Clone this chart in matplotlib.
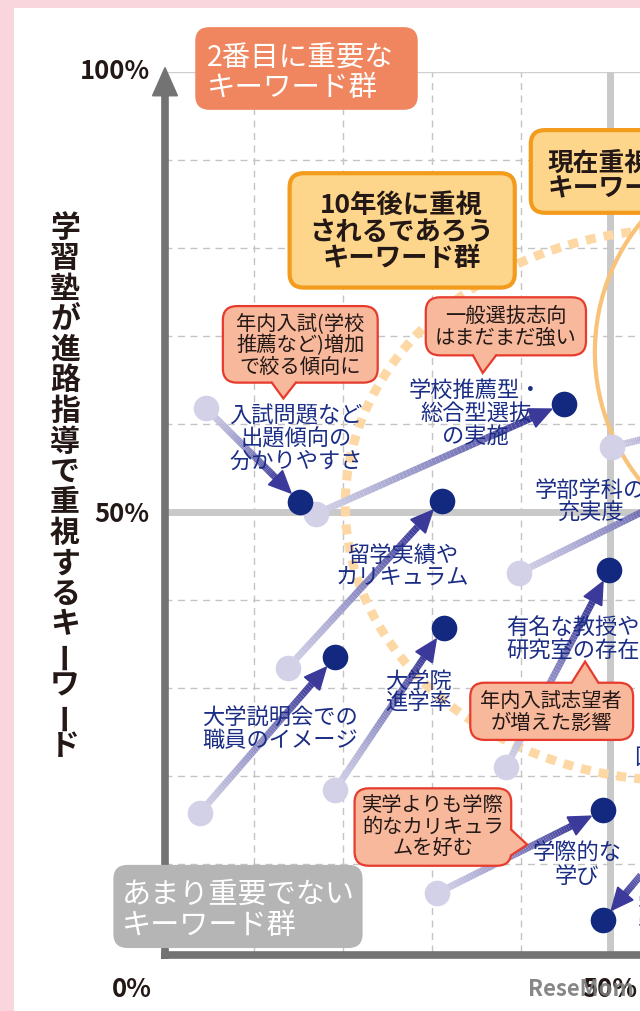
import numpy as np
import matplotlib
matplotlib.use("Agg")
import matplotlib.pyplot as plt
from matplotlib.patches import FancyBboxPatch, Ellipse, Polygon
from matplotlib.collections import LineCollection
from matplotlib.colors import to_rgb

plt.rcParams['font.family'] = ['Noto Sans CJK JP', 'DejaVu Sans']

# --- data (percent) : light point -> dark point ---
names = ['入試問題など出題傾向の分かりやすさ', '学校推薦型・総合型選抜の実施',
         '留学実績やカリキュラム', '大学説明会での職員のイメージ', '大学院進学率',
         '有名な教授や研究室の存在', '学部学科の充実度', '(右側)', '学際的な学び', '(右下)']
from_x = [4.6, 17.0, 13.8, 3.9, 19.1, 38.3, 39.8, 50.2, 30.6, 60.1]
from_y = [61.8, 49.8, 32.3, 15.8, 18.4, 21.0, 43.1, 57.4, 6.7, 16.7]
to_x = [15.2, 44.8, 31.1, 19.1, 31.3, 49.9, 62.4, 66.9, 49.2, 49.2]
to_y = [51.1, 62.3, 51.3, 33.5, 36.8, 43.4, 54.4, 61.6, 16.1, 3.6]

# labels drawn next to the points (text, x, y)
point_labels = [
    ('入試問題など\n出題傾向の\n分かりやすさ', 14.7, 58.3),
    ('学校推薦型・\n総合型選抜\nの実施', 34.9, 61.2),
    ('留学実績や\nカリキュラム', 26.7, 43.8),
    ('大学説明会での\n職員のイメージ', 12.9, 25.3),
    ('大学院\n進学率', 28.5, 29.5),
    ('有名な教授や\n研究室の存在', 45.8, 35.6),
    ('学部学科の\n充実度', 47.8, 51.2),
    ('学際的な\n学び', 46.3, 9.9),
]

NAVY = '#1b2d85'
LIGHT = '#d2d1e7'
DARK = '#13287f'
INK = '#231815'

fig = plt.figure(figsize=(6.4, 10.11), dpi=100)
fig.patch.set_facecolor('#f9d6de')
bg = fig.add_axes([14 / 640, 0, 1 - 14 / 640, 1 - 8 / 1011], zorder=-5)
bg.set_facecolor('white')
bg.set_xticks([])
bg.set_yticks([])
for s in bg.spines.values():
    s.set_visible(False)

ax = fig.add_axes([165 / 640, 59 / 1011, 475 / 640, 880 / 1011])
ax.set_xlim(0, 475 / 8.9)
ax.set_ylim(0, 100)
ax.set_axis_off()
ax.patch.set_alpha(0)

# grid
for v in [10, 20, 30, 40]:
    ax.plot([v, v], [0, 100], color='#c4c4c4', lw=1, dashes=(5, 4), zorder=1)
for v in [10, 20, 30, 40, 60, 70, 80, 90]:
    ax.plot([0, 60], [v, v], color='#c4c4c4', lw=1, dashes=(5, 4), zorder=1)
ax.plot([0, 60], [100, 100], color='#d0d0d0', lw=1, zorder=1)
ax.plot([50, 50], [0, 100], color='#c9c9c9', lw=5, zorder=1, solid_capstyle='butt')
ax.plot([0, 60], [50, 50], color='#c9c9c9', lw=5, zorder=1, solid_capstyle='butt')

# ellipses
ax.add_patch(Ellipse((57.9, 50.8), 75.3, 62.7, fill=False, ec='#fdd8a4', lw=6.5,
                     linestyle=(0, (1.1, 0.9)), zorder=2))
ax.add_patch(Ellipse((71.3, 68.2), 46.0, 46.6, fill=False, ec='#f8c279', lw=3, zorder=2))

# axes lines
ax.plot([0, 0], [-0.8, 97.5], color='#737373', lw=5.5, clip_on=False, zorder=3,
        solid_capstyle='butt')
ax.plot([-0.45, 60], [-0.35, -0.35], color='#737373', lw=5.5, clip_on=False, zorder=3,
        solid_capstyle='butt')
ax.add_patch(Polygon([[0, 100.5], [-1.4, 97.3], [1.4, 97.3]], closed=True,
                     color='#737373', clip_on=False, zorder=3))

# arrows
T = ax.transData
inv = T.inverted()
c0 = np.array(to_rgb('#d0cfe6'))
c1 = np.array(to_rgb('#3b3999'))
for x0, y0, x1, y1 in zip(from_x, from_y, to_x, to_y):
    a = T.transform((x0, y0))
    b = T.transform((x1, y1))
    d = b - a
    u = d / np.hypot(*d)
    n = np.array([-u[1], u[0]])
    tip = b - u * 13
    base = tip - u * 22
    t = np.linspace(0, 1, 61)
    pts = a + np.outer(t, base + u * 2 - a)
    segs = np.stack([pts[:-1], pts[1:]], axis=1)
    segs = inv.transform(segs.reshape(-1, 2)).reshape(-1, 2, 2)
    tm = (t[:-1] + t[1:]) / 2
    cols = c0 + np.outer(tm ** 1.3, c1 - c0)
    ax.add_collection(LineCollection(segs, colors=cols, linewidths=5, capstyle='butt', zorder=4))
    head = inv.transform(np.array([tip, base + n * 10, base - n * 10]))
    ax.add_patch(Polygon(head, closed=True, color=c1, zorder=4))

ax.scatter(from_x, from_y, s=340, color=LIGHT, zorder=5, linewidths=0)
ax.scatter(to_x, to_y, s=340, color=DARK, zorder=6, linewidths=0)

for txt, x, y in point_labels:
    ax.text(x, y, txt, color=NAVY, fontsize=16, ha='center', va='center',
            linespacing=0.98, zorder=7)
# labels cut at the right edge
ax.text(52.7, 22.1, '国際化への取り組み', color=NAVY, fontsize=16, ha='left', va='center',
        zorder=7)
ax.text(53.1, 4.1, '学費の\n安さ', color=NAVY, fontsize=16, ha='left', va='center',
        linespacing=0.98, zorder=7)


def box(x0, x1, y0, y1, fc, ec, lw, text, tx, ty, ha='center', **kw):
    ax.add_patch(FancyBboxPatch((x0, y1), x1 - x0, y0 - y1,
                                boxstyle='round,pad=0,rounding_size=1.6',
                                fc=fc, ec=ec, lw=lw, clip_on=False, zorder=8))
    ax.text(tx, ty, text, ha=ha, va='center', zorder=10, clip_on=False, **kw)


def callout(x0, x1, y0, y1, tail, text, tx, ty):
    box(x0, x1, y0, y1, '#f7b89c', '#e63b2d', 1.6, text, tx, ty,
        fontsize=14.6, color=INK, linespacing=1.05)
    (bx1, by1), tip, (bx2, by2), (dx, dy) = tail
    ax.add_patch(Polygon([[bx1 + dx, by1 + dy], [bx1, by1], tip, [bx2, by2], [bx2 + dx, by2 + dy]],
                         closed=True, fc='#f7b89c', ec='none', zorder=9))
    ax.plot([bx1, tip[0], bx2], [by1, tip[1], by2], color='#e63b2d', lw=1.6, zorder=9,
            solid_joinstyle='miter')


box(3.4, 28.4, 105.1, 95.7, '#f0865f', 'none', 0, '2番目に重要な\nキーワード群', 4.7, 99.9,
    ha='left', fontsize=20.5, color='white', linespacing=1.0)
box(14.0, 39.3, 88.5, 75.5, '#fdd68b', '#f29b1c', 3, '10年後に重視\nされるであろう\nキーワード群',
    26.6, 81.8, fontsize=19, fontweight='bold', color=INK, linespacing=0.98)
box(41.1, 62.0, 93.4, 84.0, '#fdd68b', '#f29b1c', 3, '現在重視されている\nキーワード群',
    43.0, 88.2, ha='left', fontsize=18.5, fontweight='bold', color=INK, linespacing=0.95)
box(-5.8, 22.2, 9.9, 0.45, '#b4b5b4', 'none', 0, 'あまり重要でない\nキーワード群',
    -4.8, 4.7, ha='left', fontsize=21, color='white', linespacing=1.05)

callout(6.5, 23.9, 73.4, 64.7, ((12.0, 64.7), (13.3, 62.9), (14.7, 64.7), (0, 0.6)),
        '年内入試(学校\n推薦など)増加\nで絞る傾向に', 15.2, 68.9)
callout(29.3, 47.3, 74.4, 67.8, ((34.6, 67.8), (35.7, 65.8), (37.2, 67.8), (0, 0.6)),
        '一般選抜志向\nはまだまだ強い', 38.3, 71.0)
callout(34.3, 52.6, 30.6, 24.1, ((45.7, 30.6), (47.2, 33.0), (48.7, 30.6), (0, -0.6)),
        '年内入試志望者\nが増えた影響', 43.4, 27.2)
callout(21.3, 38.9, 18.6, 9.8, ((38.9, 13.9), (40.7, 12.2), (38.9, 11.0), (-0.6, 0)),
        '実学よりも学際\n的なカリキュラ\nムを好む', 30.1, 14.2)

# tick labels
tick_kw = dict(fontsize=18.5, fontweight='bold', color=INK, clip_on=False, va='center')
ax.text(-1.7, 100, '100%', ha='right', **tick_kw)
ax.text(-1.7, 49.7, '50%', ha='right', **tick_kw)
ax.text(-3.7, -4.3, '0%', ha='center', **tick_kw)
ax.text(50, -4.3, '50%', ha='center', **tick_kw)
ax.text(40.8, -4.3, 'ReseMom', ha='left', va='center', fontsize=16, fontweight='bold',
        color='#7a7a7a', alpha=0.9, clip_on=False, zorder=12)

# vertical y label
ylabel = '学習塾が進路指導で重視するキーワード'
for i, ch in enumerate(ylabel):
    py = 228 + i * 30.5
    fig.text(65 / 640, 1 - py / 1011, ch, ha='center', va='center', fontsize=21.5,
             fontweight='bold', color=INK, rotation=90 if ch == 'ー' else 0)

fig.savefig('out.png', dpi=100)
